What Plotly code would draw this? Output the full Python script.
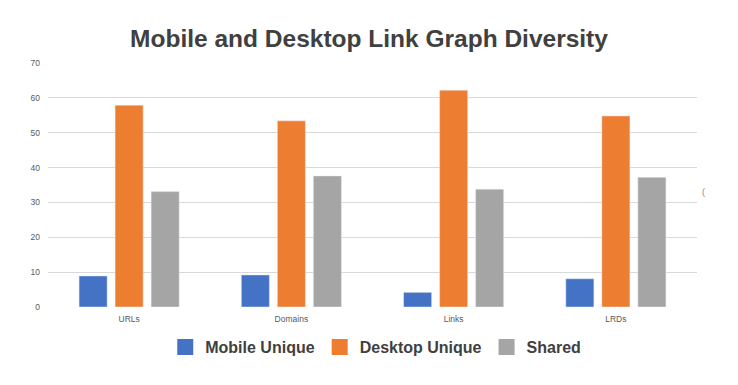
import plotly.graph_objects as go

categories = ["URLs", "Domains", "Links", "LRDs"]
mobile_unique = [8.9, 9.2, 4.2, 8.1]
desktop_unique = [57.9, 53.4, 62.2, 54.8]
shared = [33.1, 37.6, 33.8, 37.2]
y_ticks = [0, 10, 20, 30, 40, 50, 60, 70]

series = [
    ("Mobile Unique", mobile_unique, "#4472C4"),
    ("Desktop Unique", desktop_unique, "#ED7D31"),
    ("Shared", shared, "#A5A5A5"),
]

fig = go.Figure()
for name, vals, col in series:
    fig.add_trace(go.Bar(x=categories, y=vals, name=name, marker_color=col,
                         showlegend=False))
for name, vals, col in series:
    fig.add_trace(go.Scatter(x=[None], y=[None], mode="markers",
                             name="<b>" + name + "</b>",
                             marker=dict(symbol="square", size=20, color=col)))

fig.update_layout(
    width=738, height=385,
    paper_bgcolor="white", plot_bgcolor="white",
    margin=dict(l=48, r=41, t=63, b=78, autoexpand=False),
    barmode="group", bargap=0.334, bargroupgap=0.22,
    title=dict(text="<b>Mobile and Desktop Link Graph Diversity</b>",
               x=0.5, xanchor="center", y=1 - 38 / 385, yref="container",
               yanchor="middle",
               font=dict(family="Liberation Sans", size=24.5, color="#404040")),
    font=dict(family="Liberation Sans", color="#595959"),
    legend=dict(orientation="h", x=0.505, xanchor="center",
                y=(307 - 330) / 244, yanchor="top",
                font=dict(size=16, color="#404040"), itemwidth=30),
    showlegend=True,
)
fig.update_xaxes(showgrid=False, showline=False, ticks="", automargin=False,
                 ticklabelstandoff=5,
                 tickfont=dict(size=8.5, color="#595959"))
fig.update_yaxes(range=[0, 70], tickvals=y_ticks, showgrid=True, automargin=False,
                 gridcolor="#D9D9D9", gridwidth=1, zeroline=False,
                 ticks="", ticklen=0, ticklabelstandoff=7,
                 tickfont=dict(size=8.5, color="#595959"))
fig.add_annotation(text="(", xref="paper", yref="paper",
                   x=(707 - 48) / 649, y=(307 - 192) / 244,
                   showarrow=False, font=dict(size=9, color="#888888"))
fig.write_html("out.html", config={"displayModeBar": False},
               post_script="document.body.style.margin='0';document.body.style.padding='0';")
